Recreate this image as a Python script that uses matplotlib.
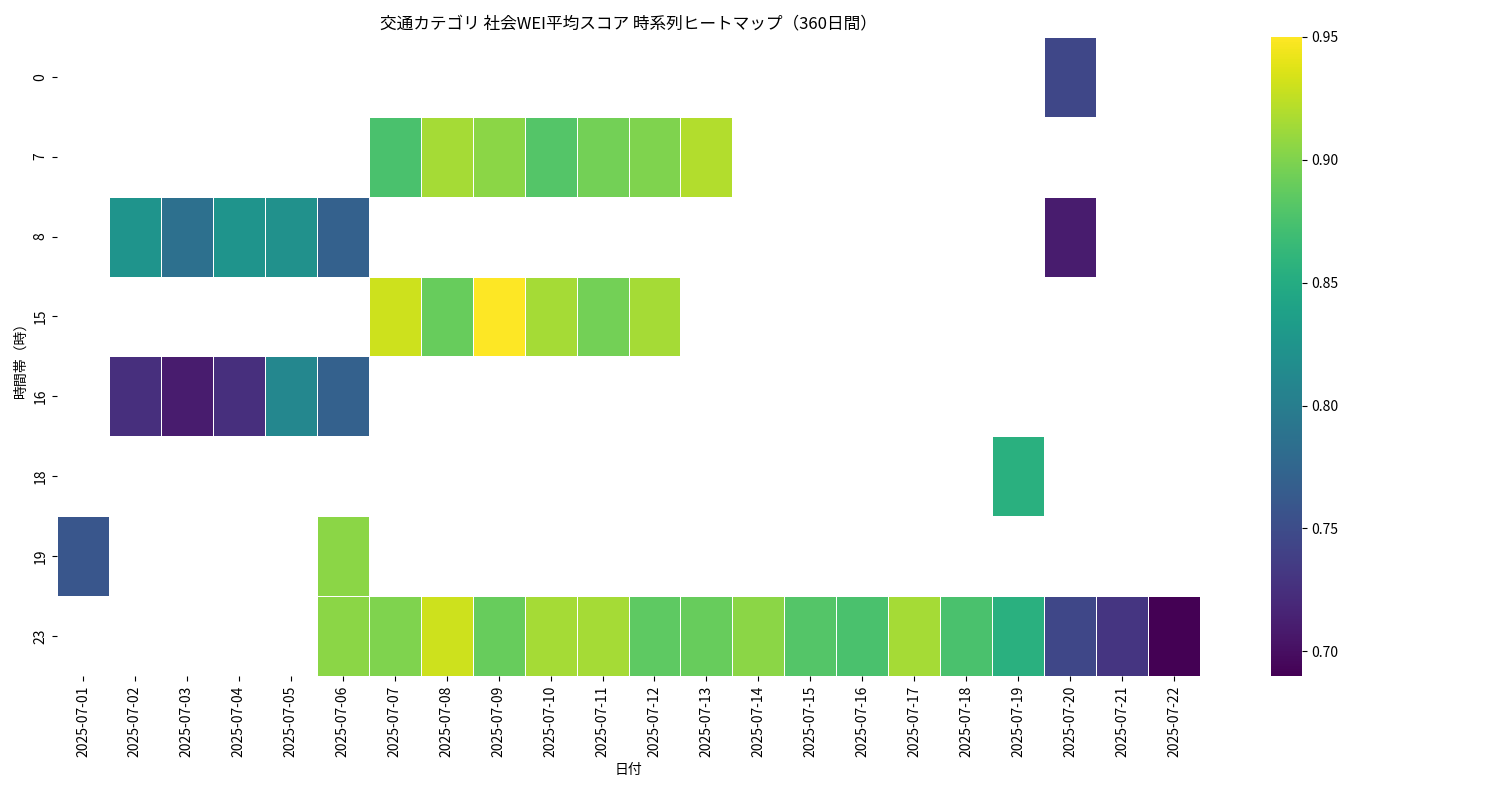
import numpy as np
import matplotlib
matplotlib.use("Agg")
import matplotlib.pyplot as plt

plt.rcParams["font.family"] = ["Noto Sans CJK JP", "DejaVu Sans"]

dates = [f"2025-07-{d:02d}" for d in range(1, 23)]
hours = ["0", "7", "8", "15", "16", "18", "19", "23"]
nan = np.nan
h0 = [nan]*19 + [0.745, nan, nan]
h7 = [nan]*6 + [0.875, 0.915, 0.905, 0.88, 0.895, 0.9, 0.92] + [nan]*9
h8 = [nan, 0.825, 0.785, 0.825, 0.82, 0.77] + [nan]*13 + [0.71, nan, nan]
h15 = [nan]*6 + [0.93, 0.89, 0.95, 0.915, 0.895, 0.915] + [nan]*10
h16 = [nan, 0.725, 0.71, 0.725, 0.81, 0.77] + [nan]*16
h18 = [nan]*18 + [0.855] + [nan]*3
h19 = [0.76] + [nan]*4 + [0.905] + [nan]*16
h23 = [nan]*5 + [0.905, 0.9, 0.93, 0.89, 0.915, 0.915, 0.885, 0.89, 0.905, 0.88,
                 0.875, 0.915, 0.875, 0.855, 0.745, 0.73, 0.69]

data = np.ma.masked_invalid(np.array([h0, h7, h8, h15, h16, h18, h19, h23]))

fig = plt.figure(figsize=(15, 8), dpi=100)
ax = fig.add_axes([0.038, 0.155, 0.762, 0.799])
cax = fig.add_axes([0.847, 0.155, 0.021, 0.799])
m = ax.pcolormesh(np.arange(len(dates)+1), np.arange(len(hours)+1), data,
                  cmap="viridis", vmin=0.69, vmax=0.95, edgecolors="white", linewidth=0.5)
ax.set_xlim(0, len(dates)); ax.set_ylim(len(hours), 0)
ax.set_xticks(np.arange(len(dates)) + 0.5)
ax.set_xticklabels(dates, rotation=90)
ax.set_yticks(np.arange(len(hours)) + 0.5)
ax.set_yticklabels(hours, rotation=90, va="center")
for s in ax.spines.values():
    s.set_visible(False)
ax.set_xlabel("日付")
ax.set_ylabel("時間帯（時）")
ax.set_title("交通カテゴリ 社会WEI平均スコア 時系列ヒートマップ（360日間）")
cb = fig.colorbar(m, cax=cax)
cb.outline.set_visible(False)
cb.set_ticks([0.70, 0.75, 0.80, 0.85, 0.90, 0.95])
fig.savefig("out.png")
